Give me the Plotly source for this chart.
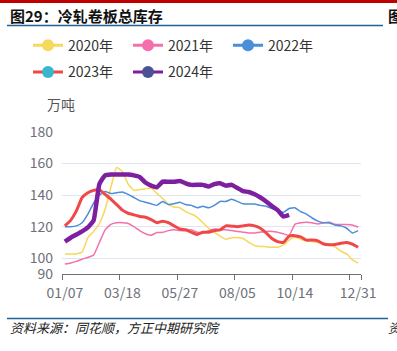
import plotly.graph_objects as go

# ---------------- data ----------------
dates = ["01/07", "01/14", "01/21", "01/28", "02/04", "02/11", "02/18", "02/25", "03/04", "03/11",
         "03/18", "03/25", "04/01", "04/08", "04/15", "04/22", "04/29", "05/06", "05/13", "05/20",
         "05/27", "06/03", "06/10", "06/17", "06/24", "07/01", "07/08", "07/15", "07/22", "07/29",
         "08/05", "08/12", "08/19", "08/26", "09/02", "09/09", "09/16", "09/23", "09/30", "10/07",
         "10/14", "10/21", "10/28", "11/04", "11/11", "11/18", "11/25", "12/02", "12/09", "12/16",
         "12/23", "12/31"]
tick_labels = ["01/07", "03/18", "05/27", "08/05", "10/14", "12/31"]

s2020 = [102.7, 102.7, 102.7, 104, 113, 117, 122, 131, 145, 157.5,
         155, 147, 143, 143.5, 144, 144.5, 141, 138, 134, 132.5,
         132, 129.5, 128, 126, 122.5, 119, 116.5, 114, 112, 113,
         113, 112.5, 110, 108, 107.5, 107.3, 107, 107, 108.5, 111.5,
         113.5, 112, 111, 110.5, 110, 109.5, 109, 107, 104.5, 102.7,
         99, 97]
s2021 = [96.3, 97, 98, 99.4, 100.5, 102, 110, 118, 121.5, 122.5,
         122.5, 122, 120, 117.5, 115.5, 114.5, 116.3, 116.4, 117.5, 118,
         117.5, 117.5, 118, 116.5, 116, 117.5, 118.5, 118, 118, 117.5,
         117, 116.5, 116, 116, 116.5, 117, 117, 116.5, 115.5, 114.5,
         121.5, 122.5, 122.8, 122.5, 121.7, 122.5, 122.8, 121.5, 121.3, 121.3,
         121, 119.6]
s2022 = [120, 120, 120.5, 122.5, 128, 135, 140, 142.3, 141, 141.5,
         142, 140.5, 138.5, 136.5, 135.5, 134.5, 133.5, 136, 134, 134.5,
         135.5, 134, 133.5, 132, 133, 132, 133.5, 136, 136, 137.3,
         136, 134.5, 134.3, 134.3, 133.5, 133, 131.5, 130.5, 129, 131.5,
         132, 129.5, 128, 125.5, 123.5, 122.5, 122.3, 121, 120.5, 119,
         116, 117.5]
s2023 = [120.5, 124, 130, 138.5, 141.5, 143, 143.5, 140.5, 137.5, 134,
         130.5, 128.5, 127.5, 126.5, 126, 124.5, 122.5, 123.5, 122.5, 120.5,
         118.5, 118, 116.5, 115, 116.5, 116.5, 117.5, 118, 120.5, 120.3,
         120, 120.5, 121, 120.5, 119, 116, 112.5, 110.5, 110, 114,
         114.3, 113.5, 111.5, 111.5, 111, 109, 108.5, 108.7, 109.5, 110,
         109, 107]
s2024 = [110.5, 113, 115, 117, 119.5, 124, 147, 152.5, 153, 153,
         153, 153, 152.5, 151.5, 148, 146, 145, 148.5, 148.5, 148.5,
         149, 147.5, 146.5, 146.5, 146.5, 145.5, 147, 147.5, 146, 146.5,
         144.5, 142.5, 142, 140.5, 138.5, 136, 133, 130.5, 126.5, 127.5]

series = [
    ("2020年", s2020, "#f6d85a", "#f6d85a", 1.5),
    ("2021年", s2021, "#f56fab", "#f56fab", 1.5),
    ("2022年", s2022, "#4a8ed8", "#4a8ed8", 1.5),
    ("2023年", s2023, "#f04848", "#3ab5cc", 3),
    ("2024年", s2024, "#7e1fa0", "#4b5196", 4.5),
]

# ---------------- layout helpers (pixel -> paper) ----------------
W, H = 397, 351
ML, MR, MT, MB = 62, 36, 132, 77
PW, PH = W - ML - MR, H - MT - MB


def px(x):
    return (x - ML) / PW


def py(y):
    return 1 - (y - MT) / PH


FONT = "Noto Sans CJK SC"
AXIS_GRAY = "#6e7079"

fig = go.Figure()
idx = list(range(len(dates)))
for name, vals, lc, mc, lw in series:
    fig.add_trace(go.Scatter(x=idx[:len(vals)], y=vals, mode="lines",
                             line=dict(color=lc, width=lw, shape="spline", smoothing=0.4),
                             showlegend=False, hoverinfo="skip"))

for i, (name, vals, lc, mc, lw) in enumerate(series):
    fig.add_trace(go.Scatter(x=[None], y=[None], mode="lines+markers", name=name,
                             line=dict(color=lc, width=3),
                             marker=dict(color=mc, size=12),
                             legend="legend" if i < 3 else "legend2"))

label_pos = [dates.index(t) for t in tick_labels]
boundary_ticks = [-0.5, 9.5, 19.5, 29.5, 39.5, 49.5, 51.5]

fig.update_layout(
    width=W, height=H,
    margin=dict(l=ML, r=MR, t=MT, b=MB),
    paper_bgcolor="white", plot_bgcolor="white",
    font=dict(family=FONT, size=14, color="#333"),
    xaxis=dict(range=[-0.5, 51.5], tickvals=label_pos, ticktext=tick_labels,
               ticks="", showgrid=False, zeroline=False,
               showline=True, linecolor=AXIS_GRAY, linewidth=1,
               tickfont=dict(size=14, color=AXIS_GRAY), ticklabelstandoff=6,
               minor=dict(tickvals=boundary_ticks, ticks="outside", ticklen=5,
                          tickcolor=AXIS_GRAY, tickwidth=1, showgrid=False)),
    yaxis=dict(range=[90, 180], tickvals=[90, 100, 120, 140, 160, 180],
               ticks="", showgrid=True, gridcolor="#e0e6f1", gridwidth=1,
               zeroline=False, showline=False,
               tickfont=dict(size=14, color=AXIS_GRAY), ticklabelstandoff=8),
    legend=dict(orientation="h", xref="container", yref="container",
                x=28 / W, y=1 - 45.7 / H, xanchor="left", yanchor="middle",
                font=dict(size=14, color="#333"), entrywidth=55,
                bgcolor="rgba(0,0,0,0)", itemclick=False),
    legend2=dict(orientation="h", xref="container", yref="container",
                 x=28 / W, y=1 - 72.3 / H, xanchor="left", yanchor="middle",
                 font=dict(size=14, color="#333"), entrywidth=55,
                 bgcolor="rgba(0,0,0,0)", itemclick=False),
    showlegend=True,
)

shapes = [
    dict(type="rect", xref="paper", yref="paper", x0=px(0), x1=px(W), y0=py(3), y1=py(0),
         fillcolor="#c00000", line=dict(width=0), layer="above"),
    dict(type="line", xref="paper", yref="paper", x0=px(7), x1=px(383), y0=py(25.5), y1=py(25.5),
         line=dict(color="#22609a", width=1.5)),
    dict(type="line", xref="paper", yref="paper", x0=px(7), x1=px(388), y0=py(318.5), y1=py(318.5),
         line=dict(color="#22609a", width=1.5)),
]
fig.update_layout(shapes=shapes)

annos = [
    dict(text="<b>图29：冷轧卷板总库存</b>", x=px(8), y=py(15), xanchor="left", yanchor="middle",
         font=dict(size=15, color="#111")),
    dict(text="<b>图</b>", x=px(386), y=py(15), xanchor="left", yanchor="middle",
         font=dict(size=15, color="#111")),
    dict(text="万吨", x=px(61), y=py(104), xanchor="center", yanchor="middle",
         font=dict(size=14, color="#555")),
    dict(text="<i>资料来源：同花顺，方正中期研究院</i>", x=px(8), y=py(327.5), xanchor="left",
         yanchor="middle", font=dict(size=13, color="#222")),
    dict(text="<i>资</i>", x=px(386), y=py(327.5), xanchor="left", yanchor="middle",
         font=dict(size=13, color="#222")),
]
for a in annos:
    a.update(xref="paper", yref="paper", showarrow=False)
fig.update_layout(annotations=annos)

fig.write_html("out.html", config={"displayModeBar": False})
